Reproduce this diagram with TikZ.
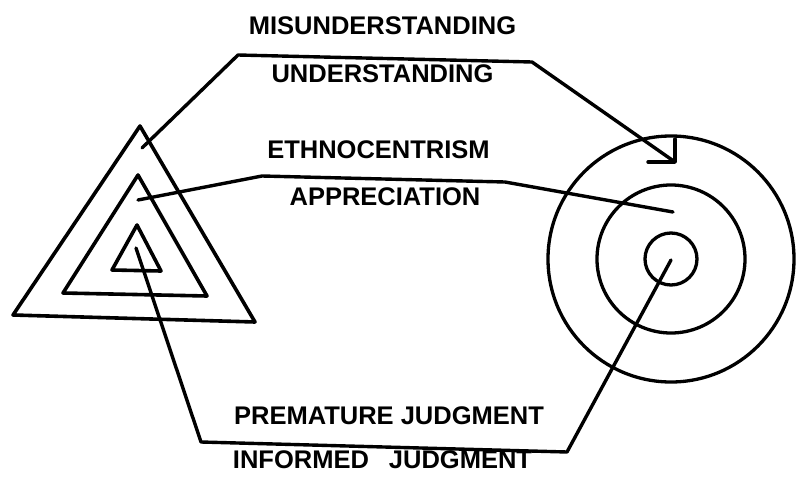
\documentclass[tikz,border=0pt]{standalone}
\usepackage{fontspec}
\setmainfont{Liberation Sans}
\begin{document}
\begin{tikzpicture}[x=1pt,y=-1pt,
  shape line/.style={line width=3.6pt, line join=round, line cap=round},
  link/.style={line width=3.4pt, line join=round, line cap=round},
  ring/.style={circle, draw, line width=3.3pt, inner sep=0pt},
  label/.style={inner sep=0pt, anchor=base, font=\fontsize{25.5}{30}\selectfont\bfseries}]
\useasboundingbox (0,0) rectangle (809,487);
% triangles
\draw[shape line] (140,126) -- (13,315) -- (255,322) -- cycle;
\draw[shape line] (138,175) -- (63,293) -- (207,296) -- cycle;
\draw[shape line] (137,225) -- (112,270) -- (161,271) -- cycle;
% circles
\node[ring, minimum size=246pt] (outerc) at (671,259) {};
\node[ring, minimum size=148pt] (midc) at (671,259) {};
\node[ring, minimum size=52pt] (innerc) at (671,259) {};
% labels
\node[label] (mis) at (382.5,35) {MISUNDERSTANDING};
\node[label] (und) at (382.5,83) {UNDERSTANDING};
\node[label] (eth) at (378.5,158) {ETHNOCENTRISM};
\node[label] (app) at (385,205) {APPRECIATION};
\node[label] (pre) at (389,424) {PREMATURE JUDGMENT};
\node[label] (inf) at (382.5,468) {INFORMED\hspace{20pt}JUDGMENT};
% connector points
\coordinate (s1) at (142,148);
\coordinate (a1) at (238,55);
\coordinate (b1) at (532,62);
\coordinate (e1) at (675,162);
\coordinate (h1) at (648,162);
\coordinate (v1) at (675,139);
\coordinate (s2) at (138,200);
\coordinate (a2) at (262,176);
\coordinate (b2) at (505,182);
\coordinate (e2) at (673,212);
\coordinate (s3) at (136,248);
\coordinate (a3) at (201,442);
\coordinate (b3) at (567,452);
\coordinate (e3) at (671,260);
% connectors
\draw[link] (s1) -- (a1) -- (b1) -- (e1);
\draw[link] (h1) -- (e1) -- (v1);
\draw[link] (s2) -- (a2) -- (b2) -- (e2);
\draw[link] (s3) -- (a3) -- (b3) -- (e3);
\end{tikzpicture}
\end{document}
